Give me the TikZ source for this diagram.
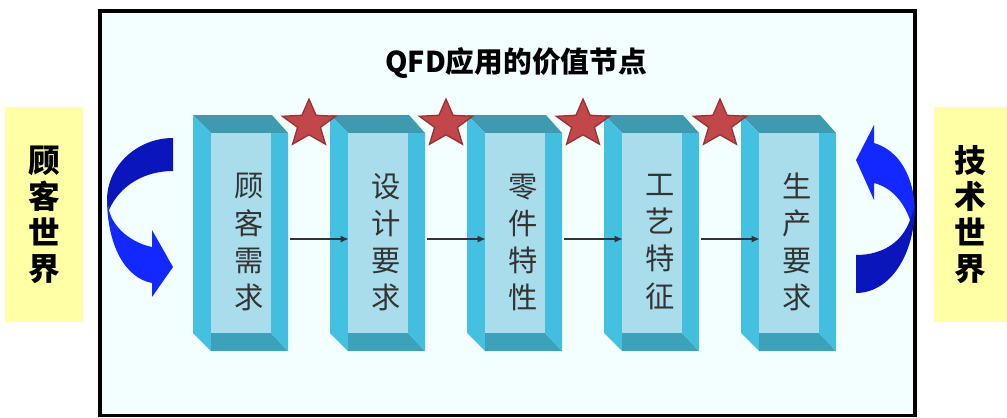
\documentclass[tikz,border=0pt]{standalone}
\usepackage{fontspec}
\setmainfont{Noto Sans CJK SC}
\usetikzlibrary{calc,arrows.meta}
\definecolor{framebg}{HTML}{F3FFFF}
\definecolor{ybg}{HTML}{FFFFA6}
\definecolor{topc}{HTML}{3D9AAF}
\definecolor{botc}{HTML}{3DA1BA}
\definecolor{leftc}{HTML}{44C1E1}
\definecolor{rightc}{HTML}{43BEDE}
\definecolor{facec}{HTML}{A9DDEB}
\definecolor{starf}{HTML}{C2474A}
\definecolor{stard}{HTML}{963232}
\definecolor{bluedark}{HTML}{0A16BC}
\definecolor{bluebright}{HTML}{1228FF}
\definecolor{txtc}{HTML}{333333}
\begin{document}
\begin{tikzpicture}[x=0.03cm,y=-0.03cm,
  ybox/.style={fill=ybg, draw=none, minimum width=2.34cm, minimum height=6.45cm, inner sep=0pt,
    align=center, font=\fontsize{27}{30.7}\selectfont\bfseries, text=black},
  face/.style={fill=facec, draw=none, minimum width=1.8cm, minimum height=6cm, inner sep=0pt},
  outer/.style={draw=none, minimum width=2.85cm, minimum height=7.08cm, inner sep=0pt},
  boxtext/.style={align=center, font=\fontsize{25}{31.6}\selectfont, text=txtc, inner sep=0pt},
  conn/.style={draw=txtc, line width=1.2pt, -{Latex[length=7pt,width=6pt]}},
  starsty/.style={fill=starf, draw=stard, line width=1.1pt, line join=miter}]
\useasboundingbox (0,0) rectangle (1007,417);
\fill[white] (0,0) rectangle (1007,417);
% frame
\draw[line width=3pt, fill=framebg] (99.8,10.8) rectangle (915.2,415.5);
% title
\node[font=\fontsize{24.5}{29}\selectfont\bfseries] (title) at (516,63) {QFD应用的价值节点};
% side boxes
\node[ybox] (cw) at (44,214.5) {顾\\客\\世\\界};
\node[ybox, minimum width=2.19cm] (tw) at (970.5,214.5) {技\\术\\世\\界};
% boxes
\foreach \k/\t in {1/{顾\\客\\需\\求},2/{设\\计\\要\\求},3/{零\\件\\特\\性},4/{工\\艺\\特\\征},5/{生\\产\\要\\求}}{
  \pgfmathsetmacro{\L}{193+137*(\k-1)}
  \fill[topc] (\L,115) -- (\L+79,115) -- (\L+95,133) -- (\L+18,133) -- cycle;
  \fill[leftc] (\L,115) -- (\L+18,133) -- (\L+18,351) -- (\L,333) -- cycle;
  \fill[botc] (\L+18,333) -- (\L+78,333) -- (\L+95,351) -- (\L+18,351) -- cycle;
  \fill[rightc] (\L+78,133) -- (\L+95,133) -- (\L+95,351) -- (\L+78,333) -- cycle;
  \node[outer] (o\k) at (\L+47.5,233) {};
  \node[face] (f\k) at (\L+48,233) {};
  \node[boxtext] (t\k) at (\L+56,242) {\t};
}
% connectors
\foreach \a/\b in {1/2,2/3,3/4,4/5}{
  \draw[conn] ($(o\a.east)+(2,6)$) -- ($(f\b.west)+(1,6)$);
}
% stars
\foreach \k in {0,...,3}{
  \pgfmathsetmacro{\cx}{309+137*\k}
  \begin{scope}[shift={(\cx,124)}]
    \filldraw[starsty] (270:28 and 25) -- (306:12 and 10.8) -- (342:28 and 25) -- (18:12 and 10.8)
      -- (54:28 and 25) -- (90:12 and 10.8) -- (126:28 and 25) -- (162:12 and 10.8)
      -- (198:28 and 25) -- (234:12 and 10.8) -- cycle;
  \end{scope}
}
% left curved arrow
\fill[bluebright] (107,198) .. controls (107,245) and (125,278) .. (152,283) -- (152,297) -- (173,267)
  -- (152,230) -- (152,247) .. controls (132,243) and (113,228) .. (109,210) -- cycle;
\fill[bluedark] (173,138) .. controls (137,138) and (107,166) .. (107,200) -- (109,210)
  .. controls (120,185) and (145,171) .. (173,171) -- cycle;
% right curved arrow
\fill[bluebright] (874,143) .. controls (898,150) and (915,175) .. (915,215) -- (910,220)
  .. controls (903,200) and (890,187) .. (874,183) -- (874,200) -- (856,160) -- (874,125) -- cycle;
\fill[bluedark] (915,205) .. controls (915,255) and (890,293) .. (856,293) -- (856,255)
  .. controls (885,255) and (903,240) .. (910,220) -- cycle;
\end{tikzpicture}
\end{document}
